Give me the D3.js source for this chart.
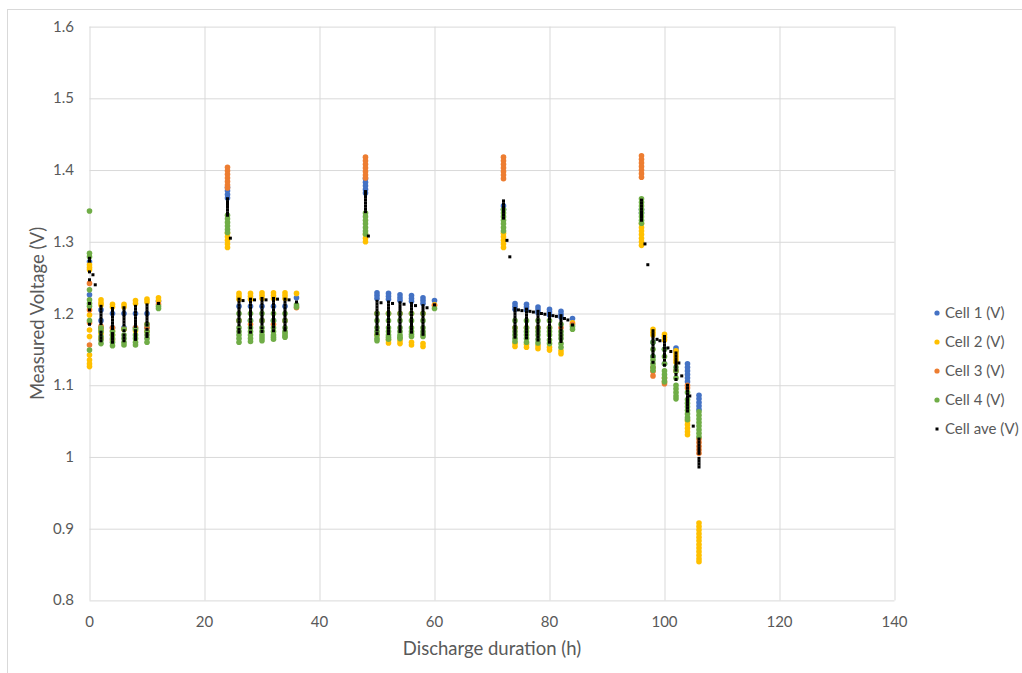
<!DOCTYPE html>
<html>
<head>
<meta charset="utf-8">
<script src="https://cdn.jsdelivr.net/npm/d3@7"></script>
<style>
  body { margin: 0; background: #fff; }
  svg text { font-family: Lato, "Noto Sans", sans-serif; fill: #595959; }
</style>
</head>
<body>
<div id="chart"></div>
<script>
// each entry: [hour, voltage readings at that hour...]
const cell1 = [
  [0, 1.272, 1.226], [2, 1.205, 1.19, 1.178], [4, 1.2, 1.18], [6, 1.2, 1.18], [8, 1.2, 1.18], [10, 1.2, 1.18], [12, 1.217],
  [24, 1.376, 1.371, 1.366, 1.361], [26, 1.21, 1.19], [28, 1.21, 1.19], [30, 1.21, 1.19], [32, 1.21, 1.19], [34, 1.21, 1.19], [36, 1.222],
  [48, 1.388, 1.383, 1.378, 1.373, 1.368], [50, 1.229, 1.225, 1.221, 1.2], [52, 1.228, 1.224, 1.22], [54, 1.226, 1.222, 1.218],
  [56, 1.225, 1.221, 1.217], [58, 1.222, 1.218, 1.214], [60, 1.218],
  [72, 1.35, 1.345], [74, 1.214, 1.21, 1.206], [76, 1.213, 1.209, 1.205], [78, 1.209, 1.205, 1.201], [80, 1.206, 1.202, 1.198],
  [82, 1.203, 1.199, 1.195], [84, 1.193],
  [96, 1.345, 1.34], [98, 1.16, 1.14], [100, 1.15, 1.13], [102, 1.152, 1.148],
  [104, 1.13, 1.125, 1.12, 1.115, 1.11, 1.105], [106, 1.086, 1.081, 1.076, 1.071, 1.066]
];
const cell2 = [
  [0, 1.268, 1.264, 1.261, 1.198, 1.177, 1.168, 1.142, 1.135, 1.13, 1.126],
  [2, 1.219, 1.215, 1.212, 1.178, 1.172], [4, 1.213, 1.209, 1.176, 1.17], [6, 1.213, 1.209, 1.178], [8, 1.218, 1.214, 1.176],
  [10, 1.22, 1.216, 1.175], [12, 1.222, 1.218],
  [24, 1.312, 1.307, 1.302, 1.297, 1.292], [26, 1.228, 1.224, 1.22], [28, 1.228, 1.224, 1.22], [30, 1.229, 1.225, 1.221],
  [32, 1.229, 1.225, 1.221], [34, 1.229, 1.225, 1.221], [36, 1.228],
  [48, 1.31, 1.305, 1.3], [50, 1.17], [52, 1.163, 1.159], [54, 1.162, 1.158], [56, 1.16, 1.156], [58, 1.158, 1.154], [60, 1.212],
  [72, 1.312, 1.307, 1.302, 1.297, 1.292], [74, 1.158, 1.154], [76, 1.157, 1.153], [78, 1.155, 1.151], [80, 1.153, 1.149],
  [82, 1.148, 1.144], [84, 1.187],
  [96, 1.325, 1.32, 1.315, 1.31, 1.305, 1.3, 1.295], [98, 1.178, 1.174, 1.17], [100, 1.171, 1.167, 1.163],
  [102, 1.148, 1.144, 1.14, 1.136, 1.132], [104, 1.05, 1.045, 1.04, 1.035, 1.031],
  [106, 0.908, 0.903, 0.898, 0.893, 0.888, 0.883, 0.878, 0.873, 0.868, 0.863, 0.858, 0.854]
];
const cell3 = [
  [0, 1.242, 1.205, 1.187, 1.156], [2, 1.182, 1.165], [4, 1.18, 1.163], [6, 1.178], [8, 1.18], [10, 1.185, 1.18], [12, 1.213],
  [24, 1.404, 1.399, 1.394, 1.389, 1.384, 1.379, 1.375], [26, 1.19], [28, 1.185], [30, 1.19], [32, 1.185], [34, 1.19], [36, 1.208],
  [48, 1.418, 1.413, 1.408, 1.403, 1.398, 1.393, 1.389], [50, 1.2], [52, 1.2], [54, 1.2], [56, 1.2], [58, 1.2], [60, 1.211],
  [72, 1.418, 1.413, 1.408, 1.403, 1.398, 1.393, 1.388], [74, 1.18], [76, 1.18], [78, 1.18], [80, 1.18], [82, 1.18], [84, 1.185],
  [96, 1.42, 1.415, 1.41, 1.405, 1.4, 1.395, 1.39], [98, 1.125, 1.119, 1.113], [100, 1.11, 1.105, 1.102], [102, 1.12],
  [104, 1.1, 1.096], [106, 1.025, 1.02, 1.015, 1.01, 1.005]
];
const cell4 = [
  [0, 1.343, 1.284, 1.279, 1.233, 1.219, 1.214, 1.21, 1.19, 1.149],
  [2, 1.18, 1.175, 1.168, 1.163, 1.158], [4, 1.175, 1.17, 1.165, 1.16, 1.155], [6, 1.178, 1.17, 1.165, 1.16, 1.156],
  [8, 1.178, 1.17, 1.165, 1.16, 1.156], [10, 1.185, 1.175, 1.17, 1.165, 1.16], [12, 1.21, 1.207],
  [24, 1.337, 1.332, 1.327, 1.322, 1.317, 1.313],
  [26, 1.2, 1.19, 1.18, 1.175, 1.17, 1.165, 1.16], [28, 1.2, 1.19, 1.18, 1.175, 1.17, 1.165, 1.161],
  [30, 1.2, 1.19, 1.18, 1.175, 1.17, 1.166, 1.162], [32, 1.2, 1.19, 1.18, 1.175, 1.17, 1.167, 1.164],
  [34, 1.2, 1.19, 1.18, 1.175, 1.172, 1.169, 1.167], [36, 1.212, 1.209],
  [48, 1.34, 1.335, 1.33, 1.325, 1.32, 1.315, 1.311],
  [50, 1.2, 1.19, 1.18, 1.175, 1.17, 1.165, 1.162], [52, 1.2, 1.19, 1.18, 1.175, 1.17, 1.167, 1.164],
  [54, 1.2, 1.19, 1.18, 1.175, 1.17, 1.167, 1.165], [56, 1.2, 1.19, 1.18, 1.175, 1.171, 1.168],
  [58, 1.2, 1.19, 1.18, 1.175, 1.171, 1.168], [60, 1.207],
  [72, 1.345, 1.34, 1.335, 1.33, 1.325, 1.32, 1.315],
  [74, 1.19, 1.18, 1.175, 1.17, 1.165, 1.161], [76, 1.19, 1.18, 1.175, 1.17, 1.165, 1.16], [78, 1.19, 1.18, 1.175, 1.17, 1.164, 1.159],
  [80, 1.19, 1.18, 1.175, 1.17, 1.163, 1.158], [82, 1.185, 1.175, 1.17, 1.165, 1.158, 1.153], [84, 1.182, 1.178],
  [96, 1.36, 1.355, 1.35, 1.345, 1.34, 1.335, 1.33, 1.326], [98, 1.16, 1.15, 1.14, 1.135, 1.13, 1.125, 1.121],
  [100, 1.15, 1.14, 1.13, 1.12, 1.115, 1.11, 1.105], [102, 1.125, 1.12, 1.11, 1.1, 1.095, 1.09, 1.085, 1.081],
  [104, 1.09, 1.08, 1.075, 1.07, 1.065, 1.06, 1.055, 1.052], [106, 1.063, 1.058, 1.053, 1.048, 1.043, 1.038, 1.033, 1.028]
];
const cellAve = [
  [0, 1.277, 1.273, 1.258, 1.247, 1.214, 1.205, 1.185], [0.6, 1.254], [1, 1.24],
  [2, 1.21, 1.206, 1.202, 1.198, 1.194, 1.19, 1.186, 1.174, 1.17, 1.166, 1.162],
  [4, 1.207, 1.203, 1.199, 1.195, 1.191, 1.187, 1.183, 1.179, 1.172, 1.168, 1.164, 1.16],
  [6, 1.208, 1.204, 1.2, 1.196, 1.192, 1.188, 1.184, 1.176, 1.17, 1.166, 1.162],
  [8, 1.21, 1.206, 1.202, 1.198, 1.194, 1.19, 1.186, 1.182, 1.176, 1.172, 1.168, 1.164],
  [10, 1.212, 1.208, 1.204, 1.2, 1.196, 1.192, 1.188, 1.184, 1.178, 1.172, 1.168], [12, 1.214],
  [24, 1.36, 1.356, 1.352, 1.348, 1.344, 1.34, 1.337], [24.5, 1.305],
  [26, 1.22, 1.216, 1.212, 1.208, 1.204, 1.2, 1.196, 1.192, 1.188, 1.184, 1.178, 1.174], [26.7, 1.218],
  [28, 1.22, 1.216, 1.212, 1.208, 1.204, 1.2, 1.196, 1.192, 1.188, 1.184, 1.18, 1.174], [28.7, 1.219],
  [30, 1.221, 1.217, 1.213, 1.209, 1.205, 1.201, 1.197, 1.193, 1.189, 1.185, 1.18, 1.175], [30.7, 1.219],
  [32, 1.221, 1.217, 1.213, 1.209, 1.205, 1.201, 1.197, 1.193, 1.189, 1.185, 1.181, 1.176], [32.7, 1.22],
  [34, 1.22, 1.216, 1.212, 1.208, 1.204, 1.2, 1.196, 1.192, 1.188, 1.184, 1.18, 1.177], [34.7, 1.219], [36, 1.216],
  [48, 1.37, 1.366, 1.362, 1.358, 1.354, 1.35, 1.346, 1.342], [48.5, 1.308],
  [50, 1.217, 1.213, 1.209, 1.205, 1.201, 1.197, 1.193, 1.189, 1.185, 1.181, 1.177, 1.172], [50.7, 1.215],
  [52, 1.216, 1.212, 1.208, 1.204, 1.2, 1.196, 1.192, 1.188, 1.184, 1.18, 1.176, 1.172], [52.7, 1.214],
  [54, 1.215, 1.211, 1.207, 1.203, 1.199, 1.195, 1.191, 1.187, 1.183, 1.179, 1.175], [54.7, 1.213],
  [56, 1.214, 1.21, 1.206, 1.202, 1.198, 1.194, 1.19, 1.186, 1.182, 1.178, 1.174], [56.7, 1.211],
  [58, 1.211, 1.207, 1.203, 1.199, 1.195, 1.191, 1.187, 1.183, 1.179, 1.175, 1.171], [58.7, 1.208], [60, 1.212],
  [72, 1.357, 1.353, 1.349, 1.345, 1.341, 1.337, 1.333], [72.6, 1.302], [73.1, 1.279],
  [74, 1.207, 1.203, 1.199, 1.195, 1.191, 1.187, 1.183, 1.179, 1.175, 1.171, 1.167], [74.6, 1.205], [75.2, 1.204],
  [76, 1.206, 1.202, 1.198, 1.194, 1.19, 1.186, 1.182, 1.178, 1.174, 1.17, 1.166], [76.6, 1.203], [77.2, 1.202],
  [78, 1.203, 1.199, 1.195, 1.191, 1.187, 1.183, 1.179, 1.175, 1.171, 1.167, 1.163], [78.6, 1.2], [79.2, 1.199],
  [80, 1.2, 1.196, 1.192, 1.188, 1.184, 1.18, 1.176, 1.172, 1.168, 1.164, 1.16], [80.6, 1.197], [81.2, 1.196],
  [82, 1.197, 1.193, 1.189, 1.185, 1.181, 1.177, 1.173, 1.169, 1.165, 1.161], [82.6, 1.193], [83.2, 1.191], [84, 1.184],
  [96, 1.358, 1.354, 1.35, 1.346, 1.342, 1.338, 1.334, 1.33], [96.6, 1.297], [97.1, 1.268],
  [98, 1.176, 1.172, 1.168, 1.164, 1.16, 1.156, 1.152, 1.148, 1.144, 1.14, 1.132], [98.7, 1.164], [99.2, 1.162],
  [100, 1.168, 1.164, 1.16, 1.156, 1.152, 1.148, 1.144, 1.14, 1.135, 1.128], [100.6, 1.152], [101.1, 1.147],
  [102, 1.145, 1.141, 1.137, 1.133, 1.129, 1.125, 1.121, 1.115, 1.108], [102.5, 1.131], [103, 1.113],
  [104, 1.1, 1.096, 1.092, 1.088, 1.084, 1.08, 1.076, 1.072, 1.068, 1.064], [104.4, 1.085], [105, 1.043],
  [106, 1.025, 1.021, 1.017, 1.013, 1.009, 1.005, 0.998, 0.994, 0.99, 0.986]
];

const seriesNames = ["Cell 1 (V)", "Cell 2 (V)", "Cell 3 (V)", "Cell 4 (V)", "Cell ave (V)"];
const seriesData = [cell1, cell2, cell3, cell4, cellAve];
const seriesColors = ["#4472C4", "#FFC000", "#ED7D31", "#70AD47", "#000000"];
const xTicks = [0, 20, 40, 60, 80, 100, 120, 140];
const yTicks = [0.8, 0.9, 1, 1.1, 1.2, 1.3, 1.4, 1.5, 1.6];

const w = 1022;
const h = 673;
const plot = { left: 89.5, right: 894.5, top: 26.6, bottom: 600.4 };

const svg = d3.select("#chart").append("svg").attr("width", w).attr("height", h);

// chart area border
svg.append("rect")
  .attr("x", 7.5).attr("y", 9.5).attr("width", w + 10).attr("height", h + 10)
  .attr("fill", "none").attr("stroke", "#d9d9d9");

const xScale = d3.scaleLinear().domain([0, 140]).range([plot.left, plot.right]);
const yScale = d3.scaleLinear().domain([0.8, 1.6]).range([plot.bottom, plot.top]);

// gridlines
svg.append("g")
  .attr("transform", `translate(${plot.left},0)`)
  .call(d3.axisLeft(yScale).tickValues(yTicks).tickSize(-(plot.right - plot.left)).tickFormat(""))
  .call(g => g.select(".domain").remove())
  .call(g => g.selectAll("line").attr("stroke", "#d9d9d9"));

svg.append("g")
  .attr("transform", `translate(0,${plot.bottom})`)
  .call(d3.axisBottom(xScale).tickValues(xTicks).tickSize(-(plot.bottom - plot.top)).tickFormat(""))
  .call(g => g.select(".domain").remove())
  .call(g => g.selectAll("line").attr("stroke", "#d9d9d9"));

// tick labels
svg.append("g").selectAll("text").data(yTicks).enter().append("text")
  .attr("x", 74).attr("y", d => yScale(d) + 5)
  .attr("text-anchor", "end").style("font-size", "15px")
  .text(d => d3.format("")(+d.toFixed(1)));

svg.append("g").selectAll("text").data(xTicks).enter().append("text")
  .attr("x", d => xScale(d)).attr("y", 627)
  .attr("text-anchor", "middle").style("font-size", "15px")
  .text(d => d);

// axis titles
svg.append("text")
  .attr("x", (plot.left + plot.right) / 2).attr("y", 655)
  .attr("text-anchor", "middle").style("font-size", "18.5px")
  .text("Discharge duration (h)");

svg.append("text")
  .attr("transform", `translate(44,${(plot.top + plot.bottom) / 2}) rotate(-90)`)
  .attr("text-anchor", "middle").style("font-size", "18.5px")
  .text("Measured Voltage (V)");

// points
seriesData.forEach(function (data, i) {
  const pts = [];
  data.forEach(function (col) {
    col.slice(1).forEach(v => pts.push({ hour: col[0], v: v }));
  });
  const g = svg.append("g").attr("class", "series");
  if (i === 4) {
    g.selectAll("rect").data(pts).enter().append("rect")
      .attr("x", d => xScale(d.hour) - 1.5)
      .attr("y", d => yScale(d.v) - 1.5)
      .attr("width", 3).attr("height", 3)
      .attr("fill", seriesColors[i]);
  } else {
    g.selectAll("circle").data(pts).enter().append("circle")
      .attr("cx", d => xScale(d.hour))
      .attr("cy", d => yScale(d.v))
      .attr("r", 2.8)
      .attr("fill", seriesColors[i]);
  }
});

// legend
const legend = svg.append("g").attr("transform", "translate(937,313)");
seriesNames.forEach(function (name, i) {
  const row = legend.append("g").attr("transform", `translate(0,${i * 29})`);
  if (i === 4) {
    row.append("rect").attr("x", -1.5).attr("y", -1.5).attr("width", 3).attr("height", 3).attr("fill", seriesColors[i]);
  } else {
    row.append("circle").attr("r", 2.6).attr("fill", seriesColors[i]);
  }
  row.append("text").attr("x", 8).attr("y", 5).style("font-size", "15px").text(name);
});
</script>
</body>
</html>
